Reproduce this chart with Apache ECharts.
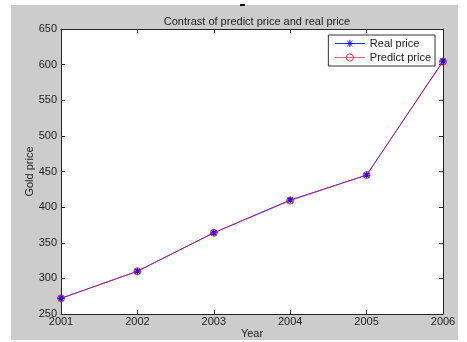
<!DOCTYPE html>
<html>
<head>
<meta charset="utf-8">
<script src="https://cdn.jsdelivr.net/npm/echarts@6/dist/echarts.min.js"></script>
<style>
  html, body { margin: 0; padding: 0; background: #ffffff; }
  #chart { width: 467px; height: 342px; }
</style>
</head>
<body>
<div id="chart"></div>
<script>
// Yearly gold prices: observed vs. model prediction
const years = [2001, 2002, 2003, 2004, 2005, 2006];
const realPrice = [272, 310, 364, 410, 445, 605];
const predictPrice = [272, 310, 364, 409, 445, 604];
const yTicks = [250, 300, 350, 400, 450, 500, 550, 600, 650];

const chart = echarts.init(document.getElementById('chart'), null, { renderer: 'canvas' });

const FONT = 'Liberation Sans, Arial, sans-serif';
const AXIS_COLOR = '#262626';
const TEXT_COLOR = '#222222';
const starSymbol = 'path://M0,-5L0,5M-5,0L5,0M-3.6,-3.6L3.6,3.6M-3.6,3.6L3.6,-3.6';

const pair = (xs, ys) => xs.map((x, i) => [x, ys[i]]);

const inwardTicks = {
  show: true, inside: true, length: 4,
  lineStyle: { color: AXIS_COLOR, width: 1 }
};
const axisLineStyle = { show: true, lineStyle: { color: AXIS_COLOR, width: 1 } };

chart.setOption({
  animation: false,
  backgroundColor: '#ffffff',
  graphic: [
    { type: 'rect', z: -10, silent: true,
      shape: { x: 11, y: 5, width: 447, height: 335 },
      style: { fill: '#cccccc' } },
    { type: 'rect', z: 10, silent: true,
      shape: { x: 240, y: 4, width: 5, height: 2 },
      style: { fill: '#000000' } }
  ],
  title: {
    text: 'Contrast of predict price and real price',
    left: 252, top: 11, textAlign: 'center',
    textStyle: { fontFamily: FONT, fontSize: 11, fontWeight: 'normal', color: TEXT_COLOR }
  },
  legend: {
    orient: 'vertical',
    right: 32, top: 35,
    padding: [3, 4, 3, 6],
    itemGap: 3,
    itemWidth: 30, itemHeight: 9,
    backgroundColor: '#ffffff',
    borderColor: '#333333', borderWidth: 1, borderRadius: 0,
    lineStyle: { width: 1 },
    itemStyle: { borderWidth: 1 },
    textStyle: { fontFamily: FONT, fontSize: 11, color: TEXT_COLOR },
    data: ['Real price', 'Predict price']
  },
  grid: { left: 61, right: 24, top: 29, bottom: 28, containLabel: false,
          outerBoundsMode: 'none',
          show: true, backgroundColor: '#ffffff', borderWidth: 0 },
  xAxis: [
    {
      type: 'value', min: 2001, max: 2006, interval: 1,
      name: 'Year', nameLocation: 'middle', nameGap: 14, nameMoveOverlap: false,
      nameTextStyle: { fontFamily: FONT, fontSize: 11, color: TEXT_COLOR },
      axisLine: axisLineStyle, axisTick: inwardTicks,
      axisLabel: { fontFamily: FONT, fontSize: 11, color: TEXT_COLOR, margin: 2,
                   formatter: v => String(v) },
      splitLine: { show: false }
    },
    {
      type: 'value', position: 'top', min: 2001, max: 2006, interval: 1,
      axisLine: axisLineStyle, axisTick: inwardTicks,
      axisLabel: { show: false }, splitLine: { show: false }
    }
  ],
  yAxis: [
    {
      type: 'value', min: yTicks[0], max: yTicks[yTicks.length - 1], interval: 50,
      name: 'Gold price', nameLocation: 'middle', nameGap: 26, nameRotate: 90,
      nameMoveOverlap: false,
      nameTextStyle: { fontFamily: FONT, fontSize: 11, color: TEXT_COLOR },
      axisLine: axisLineStyle, axisTick: inwardTicks,
      axisLabel: { fontFamily: FONT, fontSize: 11, color: TEXT_COLOR, margin: 4 },
      splitLine: { show: false }
    },
    {
      type: 'value', position: 'right', min: yTicks[0], max: yTicks[yTicks.length - 1], interval: 50,
      axisLine: axisLineStyle, axisTick: inwardTicks,
      axisLabel: { show: false }, splitLine: { show: false }
    }
  ],
  series: [
    {
      name: 'Real price', type: 'line',
      data: pair(years, realPrice),
      symbol: starSymbol, symbolSize: 7,
      lineStyle: { color: '#3030ff', width: 1 },
      itemStyle: { color: '#0000ff', borderColor: '#0000ff', borderWidth: 1.2 },
      z: 2
    },
    {
      name: 'Predict price', type: 'line',
      data: pair(years, predictPrice),
      symbol: 'circle', symbolSize: 7,
      lineStyle: { color: '#e0143c', width: 1, opacity: 0.65 },
      itemStyle: { color: 'rgba(255,255,255,0)', borderColor: '#e8102a', borderWidth: 1, opacity: 0.85 },
      z: 3
    }
  ]
});
</script>
</body>
</html>
